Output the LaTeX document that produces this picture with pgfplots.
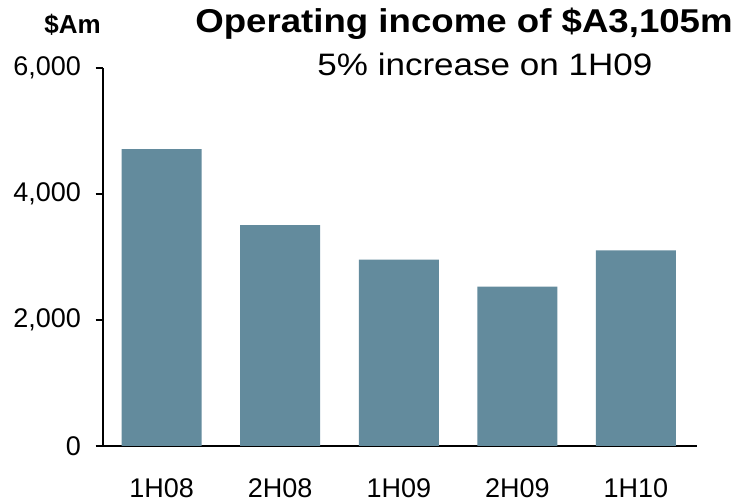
\documentclass[border=0pt]{standalone}
\usepackage{fontspec}
\setmainfont{Liberation Sans}
\usepackage{graphicx}
\usepackage{pgfplots}
\pgfplotsset{compat=1.18}
\definecolor{barc}{RGB}{99,139,157}
\begin{document}
\begin{tikzpicture}
\begin{axis}[name=ax, scale only axis, width=296.7pt, height=189pt,
  xmin=-0.4926, xmax=4.513, ymin=0, ymax=6000,
  axis x line*=bottom, axis y line*=left,
  axis line style={-, line width=1pt, black},
  xtick={0,1,2,3,4}, xticklabels={1H08,2H08,1H09,2H09,1H10},
  x tick style={draw=none},
  ytick={0,2000,4000,6000}, tick align=outside, major tick length=3.8pt,
  y tick style={line width=1pt, black},
  /pgf/number format/assume math mode=true,
  /pgf/number format/1000 sep={,},
  tick label style={font=\fontsize{13.5}{16}\selectfont},
  x tick label style={inner sep=0pt, yshift=-12.5pt},
  y tick label style={inner sep=0pt, xshift=-7.2pt},
  ybar, bar width=40pt, clip=false]
\addplot[fill=barc, draw=none] coordinates {(0,4714) (1,3508) (2,2957) (3,2529) (4,3105)};
\end{axis}
\node[anchor=base, inner sep=0pt, font=\fontsize{16.5}{19}\selectfont\bfseries] at ([xshift=180.35pt, yshift=206.6pt]ax.south west) {\scalebox{1.11}[1]{Operating income of \$A3,105m}};
\node[anchor=base, inner sep=0pt, font=\fontsize{15.5}{18}\selectfont] at ([xshift=190.8pt, yshift=185pt]ax.south west) {\scalebox{1.13}[1]{5\% increase on 1H09}};
\node[anchor=base, inner sep=0pt, font=\fontsize{13}{15}\selectfont\bfseries] at ([xshift=-15.4pt, yshift=206.35pt]ax.south west) {\$Am};
\pgfresetboundingbox
\path[use as bounding box] ([xshift=-51.65pt, yshift=-29pt]ax.south west) rectangle ++(370pt,252pt);
\end{tikzpicture}
\end{document}
